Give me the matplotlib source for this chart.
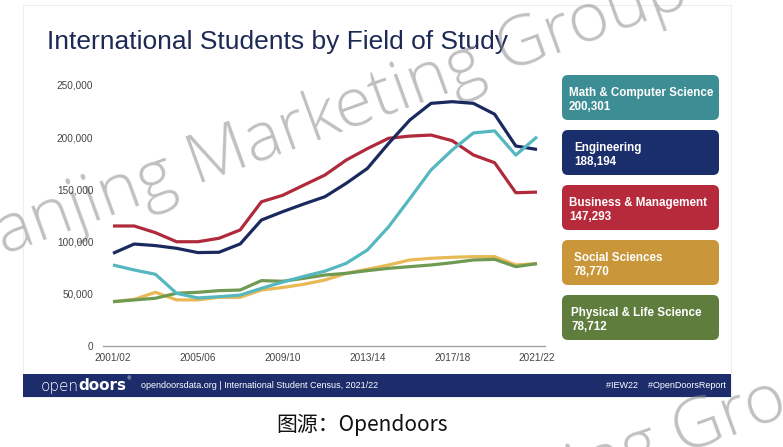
import math
import matplotlib
matplotlib.use("Agg")
import matplotlib.pyplot as plt
from matplotlib.patches import FancyBboxPatch, Rectangle

W, H = 783, 447

# data, one value per academic year 2001/02 .. 2021/22
years = ["2001/02", "2002/03", "2003/04", "2004/05", "2005/06", "2006/07", "2007/08",
         "2008/09", "2009/10", "2010/11", "2011/12", "2012/13", "2013/14", "2014/15",
         "2015/16", "2016/17", "2017/18", "2018/19", "2019/20", "2020/21", "2021/22"]
math_cs = [77400, 72600, 68500, 50200, 45800, 47000, 48500, 55000, 61000, 66500, 71500,
           79000, 91800, 114000, 141000, 168500, 187700, 204000, 206000, 182800, 200301]
engineering = [88600, 97500, 96000, 93400, 89300, 89600, 97600, 120500, 128500, 135900, 142900,
               155700, 170000, 194000, 216400, 232400, 234000, 232400, 222000, 191500, 188194]
business = [114800, 114800, 108400, 99700, 99700, 103000, 111000, 138000, 144200, 154000, 163700,
            178000, 189000, 198900, 201000, 202000, 196600, 182900, 175500, 146700, 147293]
social = [42200, 44400, 51200, 43900, 43900, 46400, 46400, 53400, 55800, 58900, 63000,
          69400, 73300, 77400, 82200, 83800, 84800, 85400, 85400, 77400, 78770]
physical = [42200, 43900, 45500, 50300, 51200, 52800, 53400, 62400, 61800, 64600, 67800,
            69400, 72000, 74200, 75800, 77400, 79600, 82200, 82800, 75800, 78712]

names = ["Math & Computer Science", "Engineering", "Business & Management",
         "Social Sciences", "Physical & Life Science"]
latest = ["200,301", "188,194", "147,293", "78,770", "78,712"]
line_colors = ["#55b7bf", "#1a2a5e", "#b02a3c", "#e9b955", "#6f9a52"]
box_colors = ["#3d8d95", "#1b2e6c", "#b72a3b", "#c9963a", "#5f7e3e"]

y_ticks = [0, 50000, 100000, 150000, 200000, 250000]
x_tick_idx = [0, 4, 8, 12, 16, 20]

fig = plt.figure(figsize=(W / 100, H / 100), dpi=100)
fig.patch.set_facecolor("white")

# overlay axes in pixel coordinates for the slide furniture
bg = fig.add_axes([0, 0, 1, 1])
bg.set_xlim(0, W)
bg.set_ylim(H, 0)
bg.set_axis_off()

bg.add_patch(Rectangle((23, 5), 708, 392, facecolor="white", edgecolor="#eeeeee", lw=0.8))
bg.text(47, 42, "International Students by Field of Study", fontsize=19,
        family="Liberation Sans", color="#1c2a55", va="center", ha="left")

# footer bar
bg.add_patch(Rectangle((23, 374), 708, 23, facecolor="#1d2d6b", edgecolor="none"))
bg.text(41, 386, "open", fontsize=11, family="DejaVu Sans", weight="light",
        color="white", va="center", ha="left")
bg.text(78, 386, "doors", fontsize=11, family="DejaVu Sans", weight="bold",
        color="white", va="center", ha="left")
bg.text(126, 379, "®", fontsize=3.5, color="white", va="center", ha="left")
bg.text(141, 386, "opendoorsdata.org | International Student Census, 2021/22", fontsize=6.5,
        family="Liberation Sans", color="white", va="center", ha="left")
bg.text(726, 386, "#IEW22    #OpenDoorsReport", fontsize=6.5,
        family="Liberation Sans", color="white", va="center", ha="right")

# caption under the slide
bg.text(362, 425, "图源：Opendoors", fontsize=15,
        family=["Noto Sans CJK SC", "DejaVu Sans"], color="#111111",
        va="center", ha="center")

# legend boxes
box_top = [75, 130, 185, 240, 295]
text_x = [569, 574, 569, 574, 571]
for i in range(5):
    bg.add_patch(FancyBboxPatch((562, box_top[i]), 157, 45,
                                boxstyle="round,pad=0,rounding_size=6",
                                facecolor=box_colors[i], edgecolor="none"))
    bg.text(text_x[i], box_top[i] + 18, names[i], fontsize=8.4, weight="bold",
            family="Liberation Sans", color="white", va="center", ha="left")
    bg.text(text_x[i], box_top[i] + 32, latest[i], fontsize=8.4, weight="bold",
            family="Liberation Sans", color="white", va="center", ha="left")

# chart axes
top_px, bot_px, left_px, right_px = 70, 345.7, 103, 545
ax = fig.add_axes([left_px / W, (H - bot_px) / H, (right_px - left_px) / W,
                   (bot_px - top_px) / H])
ax.patch.set_alpha(0)
x = list(range(len(years)))
series = [math_cs, engineering, business, social, physical]
order = [3, 4, 2, 1, 0]
for i in order:
    ax.plot(x, series[i], color=line_colors[i], lw=2.3, solid_capstyle="butt",
            solid_joinstyle="round", zorder=2 + order.index(i))
ax.set_xlim(-10 / 21.2, 20 + 8 / 21.2)
ax.set_ylim(0, (bot_px - top_px) / 1.0428 * 1000)
ax.set_yticks(y_ticks)
ax.set_yticklabels([f"{v:,}" for v in y_ticks])
ax.set_xticks(x_tick_idx)
ax.set_xticklabels([years[i] for i in x_tick_idx])
for s in ["top", "right", "left"]:
    ax.spines[s].set_visible(False)
ax.spines["bottom"].set_color("#a0a0a0")
ax.spines["bottom"].set_linewidth(1.0)
ax.tick_params(axis="both", length=0, labelsize=7.2, labelcolor="#444444")
ax.tick_params(axis="y", pad=7)
ax.tick_params(axis="x", pad=5)
for lab in ax.get_xticklabels() + ax.get_yticklabels():
    lab.set_family("Liberation Sans")

# watermark: place so that the "G" lands where it sits in the picture
wm_text = "Nanjing Marketing Group"
wm_props = dict(fontsize=50, family="Open Sans", weight="light")
wm_rot = 20
renderer = fig.canvas.get_renderer()


def prefix_width(prefix, letter):
    t1 = bg.text(0, 0, prefix + letter, **wm_props)
    t2 = bg.text(0, 0, letter, **wm_props)
    w = t1.get_window_extent(renderer).width - t2.get_window_extent(renderer).width
    t1.remove()
    t2.remove()
    return w


w = prefix_width("Nanjing Marketing ", "G")
a = math.radians(wm_rot)
for px, py in [(505, 72), (681, 454)]:
    bg.text(px - w * math.cos(a), py + w * math.sin(a), wm_text, **wm_props,
            color="#8c8c8c", alpha=0.55, rotation=wm_rot, rotation_mode="anchor",
            va="baseline", ha="left", zorder=10)

fig.savefig("out.png", dpi=100)
